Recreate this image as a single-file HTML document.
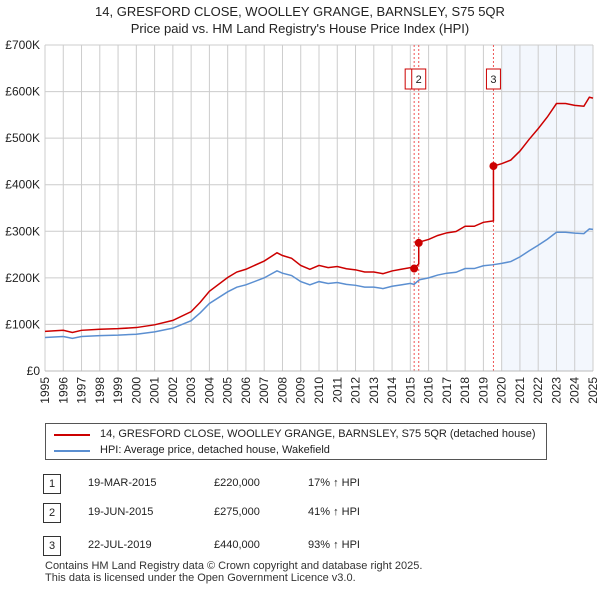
<!DOCTYPE html>
<html><head><meta charset="utf-8"><style>
body{margin:0;background:#fff;font-family:"Liberation Sans",sans-serif;}
#w{position:relative;width:600px;height:590px;overflow:hidden;}
.t{position:absolute;font-size:12px;color:#222;}
</style></head><body>
<div id="w">
<div class="t" style="left:0;width:600px;text-align:center;top:3px;font-size:13px;line-height:17px">14, GRESFORD CLOSE, WOOLLEY GRANGE, BARNSLEY, S75 5QR<br>Price paid vs. HM Land Registry's House Price Index (HPI)</div>
<svg id="c" width="600" height="420" style="position:absolute;left:0;top:0"></svg>
<div style="position:absolute;left:45px;top:423px;width:502px;height:37px;border:1px solid #555;box-sizing:border-box;background:#fff">
 <div style="position:absolute;left:8px;top:10px;width:36px;height:2px;background:#cc0000"></div>
 <div class="t" style="left:54px;top:4px;font-size:11px">14, GRESFORD CLOSE, WOOLLEY GRANGE, BARNSLEY, S75 5QR (detached house)</div>
 <div style="position:absolute;left:8px;top:26px;width:36px;height:2px;background:#5b8fd1"></div>
 <div class="t" style="left:54px;top:20px;font-size:11px">HPI: Average price, detached house, Wakefield</div>
</div>
<div id="tbl"></div>
<div class="t" style="left:45px;top:560px;font-size:11px;line-height:12px;color:#333">Contains HM Land Registry data © Crown copyright and database right 2025.<br>This data is licensed under the Open Government Licence v3.0.</div>
</div>
<script>
const hpiYears=[1995,1996,1996.5,1997,1998,1999,2000,2001,2002,2003,2003.5,2004,2005,2005.5,2006,2007,2007.7,2008,2008.5,2009,2009.5,2010,2010.5,2011,2011.5,2012,2012.5,2013,2013.5,2014,2014.5,2015,2015.2,2015.5,2016,2016.5,2017,2017.5,2018,2018.5,2019,2019.5,2020,2020.5,2021,2021.5,2022,2022.5,2023,2023.5,2024,2024.5,2024.8,2025];
const hpiValues=[72,74,70,74,76,77,79,84,92,108,125,145,170,180,185,200,215,210,205,192,185,192,188,190,186,184,180,180,177,182,185,188,186,196,200,206,210,212,220,220,226,228,231,235,245,258,270,283,298,298,296,295,305,304];
const saleDates=[2015.21,2015.46,2019.55];
const salePrices=[220,275,440];
const saleLabels=["1","2","3"];
const saleDateText=["19-MAR-2015","19-JUN-2015","22-JUL-2019"];
const salePriceText=["£220,000","£275,000","£440,000"];
const saleHpiText=["17% ↑ HPI","41% ↑ HPI","93% ↑ HPI"];
const yTicks=[0,100,200,300,400,500,600,700];
const yTickLabels=["£0","£100K","£200K","£300K","£400K","£500K","£600K","£700K"];
const X0=45,X1=593,Y0=371,Y1=45;
const sx=t=>X0+(t-1995)/30*(X1-X0);
const sy=v=>Y0-v/700*(Y0-Y1);
const s=document.getElementById('c');const NS='http://www.w3.org/2000/svg';
function el(tag,a,p){const e=document.createElementNS(NS,tag);for(const k in a)e.setAttribute(k,a[k]);(p||s).appendChild(e);return e;}
function hpiAt(t){for(let i=1;i<hpiYears.length;i++){if(t<=hpiYears[i]){const f=(t-hpiYears[i-1])/(hpiYears[i]-hpiYears[i-1]);return hpiValues[i-1]+f*(hpiValues[i]-hpiValues[i-1]);}}return hpiValues[hpiValues.length-1];}
let r=el('rect',{x:sx(2020),y:Y1,width:X1-sx(2020),height:Y0-Y1,fill:'#eef3fc',opacity:0.7});

for(let y=1995;y<=2025;y++){const g=el('line',{x1:sx(y),x2:sx(y),y1:Y1,y2:Y0,stroke:'#ccc'});
 const tx=el('text',{x:0,y:0,transform:`translate(${sx(y)+4},${Y0+6}) rotate(-90)`,'text-anchor':'end','font-size':12,fill:'#222'});tx.textContent=y;}
yTicks.forEach((v,i)=>{const g=el('line',{x1:X0,x2:X1,y1:sy(v),y2:sy(v),stroke:'#ccc'});
 const tx=el('text',{x:X0-5,y:sy(v)+4,'text-anchor':'end','font-size':12,fill:'#222'});tx.textContent=yTickLabels[i];});
saleDates.forEach((d,i)=>{const l=el('line',{x1:sx(d),x2:sx(d),y1:Y1,y2:Y0,stroke:'#e55','stroke-dasharray':'2,2'});});
// HPI line
let hp=hpiYears.map((t,i)=>sx(t)+','+sy(hpiValues[i])).join(' ');
let hl=el('polyline',{points:hp,fill:'none',stroke:'#5b8fd1','stroke-width':1.5});
// Property line: indexed to HPI from each sale
let pts=[];
function seg(a,b,k){hpiYears.forEach((t,i)=>{if(t>a&&t<b)pts.push([t,hpiValues[i]*k]);});}
seg(1994,saleDates[0],salePrices[0]/hpiAt(saleDates[0]));
pts.push([saleDates[0],salePrices[0]]);
for(let j=1;j<saleDates.length;j++){const k=salePrices[j]/hpiAt(saleDates[j]);pts.push([saleDates[j-1]+0.0,salePrices[j-1]]);pts.push([saleDates[j],hpiAt(saleDates[j-1])*salePrices[j-1]/hpiAt(saleDates[j-1])*hpiAt(saleDates[j])/hpiAt(saleDates[j-1])]);pts.push([saleDates[j],salePrices[j]]);}
pts=pts.filter(p=>p[0]<saleDates[0]||p[0]===saleDates[0]);
// rebuild cleanly
pts=[];seg(1994,saleDates[0],salePrices[0]/hpiAt(saleDates[0]));
for(let j=0;j<saleDates.length;j++){const k=salePrices[j]/hpiAt(saleDates[j]);
 if(j>0){const kp=salePrices[j-1]/hpiAt(saleDates[j-1]);pts.push([saleDates[j],hpiAt(saleDates[j])*kp]);}
 pts.push([saleDates[j],salePrices[j]]);
 seg(saleDates[j],j+1<saleDates.length?saleDates[j+1]:2026,k);}
let pl=el('polyline',{points:pts.map(p=>sx(p[0])+','+sy(p[1])).join(' '),fill:'none',stroke:'#cc0000','stroke-width':1.5});
saleDates.forEach((d,i)=>{const c=el('circle',{cx:sx(d),cy:sy(salePrices[i]),r:4,fill:'#cc0000'});
 const bx=sx(d)-(i==0?12:(i==1?0:0))-7;
 if(i>0||true){const b=el('rect',{x:i==0?sx(d)-9:sx(d)-7,y:69,width:i==0?8:14,height:20,fill:'#fff',stroke:'#cc0000'});
 if(i>0){const tx=el('text',{x:sx(d),y:83,'text-anchor':'middle','font-size':11,fill:'#222'});tx.textContent=saleLabels[i];}}});
el('line',{x1:X0,x2:X1,y1:Y0,y2:Y0,stroke:'#bbb'});
const tb=document.getElementById('tbl');const rowsY=[474,503,536];
saleDates.forEach((d,i)=>{const y=rowsY[i];
 const b=document.createElement('div');b.className='t';b.style.cssText=`left:43px;top:${y}px;width:16px;height:18px;border:1px solid #333;text-align:center;line-height:18px;font-size:11px`;b.textContent=saleLabels[i];
 tb.appendChild(b);
 [[saleDateText[i],88],[salePriceText[i],214],[saleHpiText[i],308]].forEach(([txt,x])=>{const c=document.createElement('div');c.className='t';c.style.cssText=`left:${x}px;top:${y+3}px;font-size:11px`;c.textContent=txt;
 tb.appendChild(c);});});
</script>
</body></html>
